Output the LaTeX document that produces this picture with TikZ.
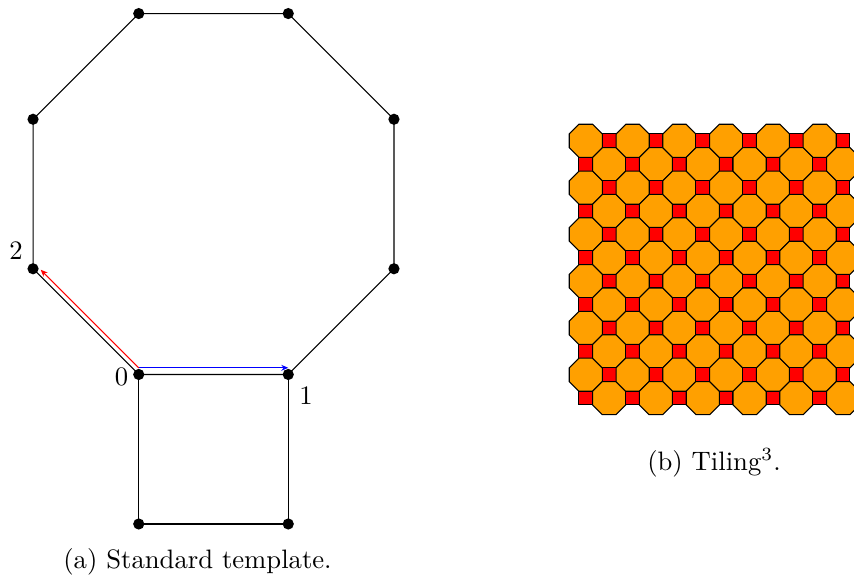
\documentclass[tikz,border=0pt]{standalone}
\usetikzlibrary{arrows.meta}
\definecolor{tileorange}{RGB}{255,160,0}
\definecolor{tilered}{RGB}{255,0,0}
\begin{document}
\begin{tikzpicture}[x=0.375pt,y=-0.375pt,
  vdot/.style={circle,fill=black,inner sep=0pt,minimum size=4.2pt},
  edgeline/.style={black,line width=0.4pt},
  vlabel/.style={inner sep=0pt},
  octtile/.style={fill=tileorange,draw=black,line width=0.4pt},
  sqtile/.style={fill=tilered,draw=black,line width=0.4pt},
  vecarrow/.style={-{Stealth[length=2.6pt,width=2.2pt]},line width=0.4pt}]
\useasboundingbox (0,0) rectangle (854,577);
% template vertices
\coordinate (v0) at (138.75,374.46);
\coordinate (v1) at (288.25,374.46);
\coordinate (v2) at (33.04,268.75);
\coordinate (v3) at (393.96,268.75);
\coordinate (v4) at (393.96,119.25);
\coordinate (v5) at (288.25,13.54);
\coordinate (v6) at (138.75,13.54);
\coordinate (v7) at (33.04,119.25);
\coordinate (s0) at (138.75,523.96);
\coordinate (s1) at (288.25,523.96);
\draw[edgeline] (v0) -- (v1) -- (v3) -- (v4) -- (v5) -- (v6) -- (v7) -- (v2) -- cycle;
\draw[edgeline] (v0) -- (s0) -- (s1) -- (v1);
% vectors
\coordinate (a0) at (138.75,367.8);
\coordinate (a1) at (288.25,367.8);
\coordinate (a2) at (40.7,269.75);
\draw[vecarrow,blue] (a0) -- (a1);
\draw[vecarrow,red] (a0) -- (a2);
% dots
\foreach \p in {v0,v1,v2,v3,v4,v5,v6,v7,s0,s1}
  \node[vdot] (d\p) at (\p) {};
% labels
\node[vlabel] (l0) at (121.5,377) {0};
\node[vlabel] (l1) at (306,396) {1};
\node[vlabel] (l2) at (16,251) {2};
% tiling
\begin{scope}
\clip (0,0) rectangle (854,577);
\foreach \a in {0,...,11}{
  \foreach \b in {0,...,11}{
    \pgfmathsetmacro{\cx}{585.8+23.39*\a}
    \pgfmathsetmacro{\cy}{140.8+23.39*\b}
    \ifodd\numexpr\a+\b\relax
      \draw[sqtile,shift={(\cx,\cy)}] (-6.85,-6.85) rectangle (6.85,6.85);
    \else
      \draw[octtile,shift={(\cx,\cy)}] (-6.85,-16.54) -- (6.85,-16.54) -- (16.54,-6.85) -- (16.54,6.85) -- (6.85,16.54) -- (-6.85,16.54) -- (-16.54,6.85) -- (-16.54,-6.85) -- cycle;
    \fi
  }
}
\end{scope}
% captions
\node[anchor=base,inner sep=0pt] (capa) at (197.5,568.6) {(a) Standard template.};
\node[anchor=base,inner sep=0pt] (capb) at (714,470) {(b) Tiling$^{3}$.};
\end{tikzpicture}
\end{document}
